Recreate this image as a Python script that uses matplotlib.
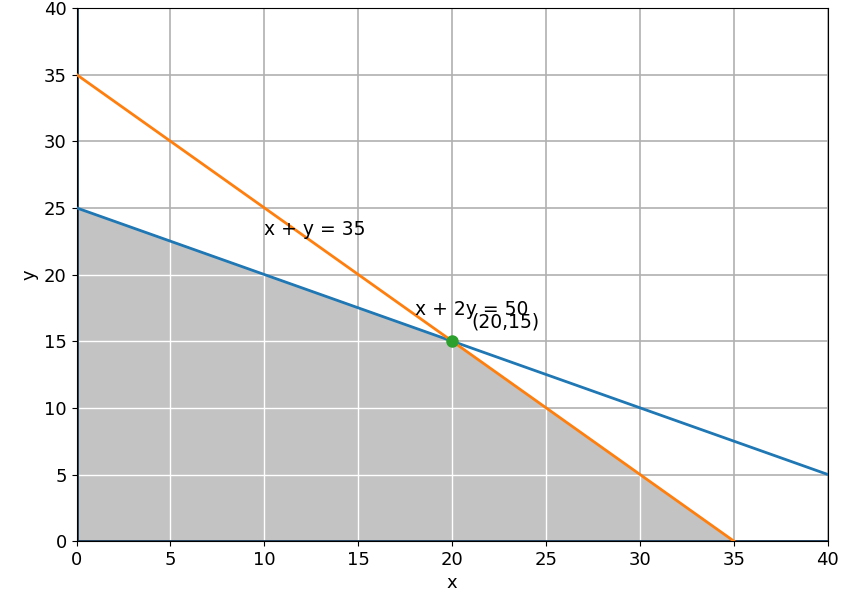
import matplotlib
matplotlib.use("Agg")
import matplotlib.pyplot as plt
import numpy as np
import matplotlib.patches as mp

x_range = [0, 40]
c1 = (1, 2, 50)   # x + 2y = 50
c2 = (1, 1, 35)   # x + y = 35
vertex = (20, 15)
region_x = [0, 0, 20, 35]
region_y = [0, 25, 15, 0]

plt.rcParams['font.size'] = 13
fig, ax = plt.subplots(figsize=(8.5, 6.04), dpi=100)
fig.subplots_adjust(left=0.09, right=0.974, top=0.987, bottom=0.104)
ax.fill(region_x, region_y, color='#c3c3c3', zorder=1)
ax.grid(True, color='#b0b0b0', linewidth=1.2, zorder=0)
ax.set_axisbelow(True)
for xv in range(5, 40, 5):
    ax.axvline(xv, color='white', lw=1, zorder=1.5)
for yv in range(5, 40, 5):
    ax.axhline(yv, color='white', lw=1, zorder=1.5)
poly = mp.Polygon(list(zip(region_x, region_y)), transform=ax.transData)
for ln in ax.lines:
    ln.set_clip_path(poly)
xs = np.linspace(x_range[0], x_range[1], 401)
ax.plot(xs, (c1[2] - c1[0]*xs)/c1[1], color='#1f77b4', lw=2, zorder=3)
y2 = (c2[2] - c2[0]*xs)/c2[1]
ax.plot(xs[y2 >= 0], y2[y2 >= 0], color='#ff7f0e', lw=2, zorder=3)
ax.axhline(0, color='#1a3a5a', lw=2, zorder=2)
ax.axvline(0, color='#1a3a5a', lw=2, zorder=2)
ax.plot(*vertex, 'o', color='#2ca02c', markersize=8, zorder=4)
ax.text(10, 23, 'x + y = 35', fontsize=13.5)
ax.text(18, 17, 'x + 2y = 50', fontsize=13.5)
ax.text(21, 16, '(20,15)', fontsize=13.5)
ax.set_xlim(0, 40); ax.set_ylim(0, 40)
ax.set_xticks(range(0, 41, 5)); ax.set_yticks(range(0, 41, 5))
ax.set_xlabel('x'); ax.set_ylabel('y')
fig.savefig('out.png')
